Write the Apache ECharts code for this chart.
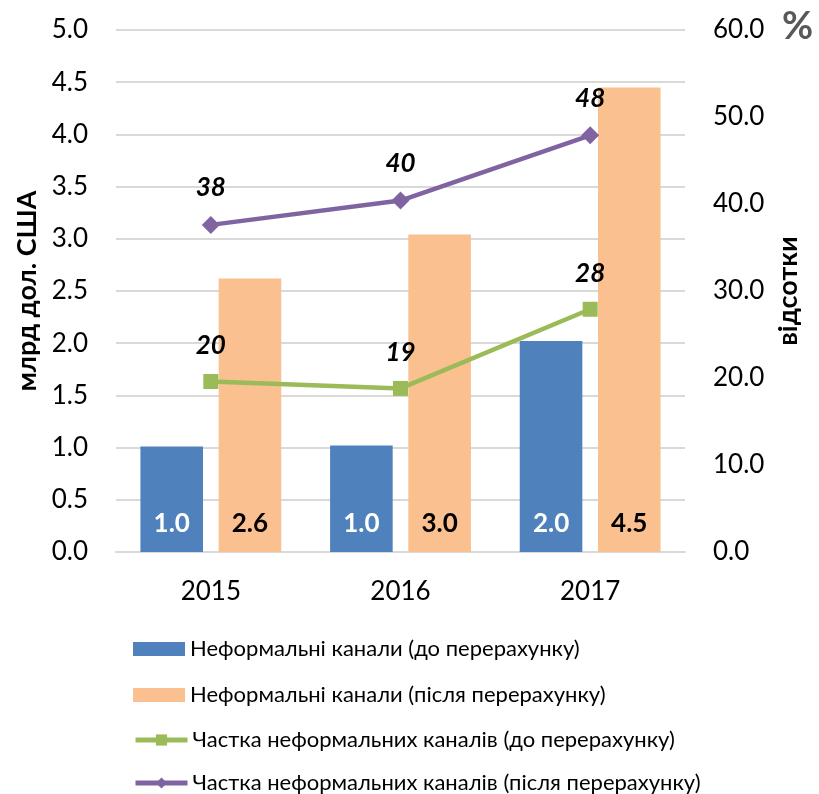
<!DOCTYPE html>
<html>
<head>
<meta charset="utf-8">
<script src="https://cdn.jsdelivr.net/npm/echarts@6/dist/echarts.min.js"></script>
<style>
  html, body { margin: 0; padding: 0; background: #fff; }
  #main { width: 819px; height: 794px; }
</style>
</head>
<body>
<div id="main"></div>
<script>
// дані
const years = ['2015', '2016', '2017'];
const informalBefore = [1.01, 1.02, 2.02];
const informalAfter = [2.62, 3.04, 4.45];
const shareBefore = [19.6, 18.8, 27.9];
const shareAfter = [37.6, 40.4, 47.9];
const seriesNames = [
  'Неформальні канали (до перерахунку)',
  'Неформальні канали (після перерахунку)',
  'Частка неформальних каналів (до перерахунку)',
  'Частка неформальних каналів (після перерахунку)'
];

const font = 'Lato, "Open Sans", sans-serif';
const colors = ['#4F81BD', '#FAC090', '#9BBB59', '#8064A2'];
let myChart = echarts.init(document.getElementById('main'));

// окрема легенда на кожен ряд, щоб стояли у стовпчик
let legendTops = [633, 679, 724, 767];
let legends = seriesNames.map(function (n, i) {
  return {
    data: [{ name: n, icon: i < 2 ? 'rect' : undefined }],
    left: 128,
    top: legendTops[i],
    itemWidth: 52,
    itemHeight: 14,
    lineStyle: { width: 5 },
    textStyle: { fontFamily: font, fontSize: 22, color: '#000' }
  };
});

let lineLabel = {
  show: true,
  position: 'top',
  distance: 15,
  fontFamily: font,
  fontSize: 26,
  fontWeight: 'bold',
  fontStyle: 'italic',
  color: '#000',
  formatter: function (p) { return Math.round(p.value); }
};

let barLabel = function (c) {
  return {
    show: true, position: 'insideBottom', distance: 15,
    fontFamily: font, fontSize: 26, fontWeight: 'bold', color: c,
    formatter: function (p) { return p.value.toFixed(1); }
  };
};

let tickLabel = { fontFamily: font, fontSize: 26, color: '#000', margin: 28, formatter: function (v) { return v.toFixed(1); } };
let axisName = { fontFamily: font, fontSize: 27, fontWeight: 'bold', color: '#000' };

let option = {
  animation: false,
  color: colors,
  legend: legends,
  grid: { left: 116, right: 134, top: 30, bottom: 242 },
  graphic: [{
    type: 'text',
    left: 782,
    top: 8,
    style: { text: '%', fontFamily: font, fontSize: 38, fontWeight: 'bold', fill: '#595959' }
  }],
  xAxis: {
    type: 'category',
    data: years,
    axisLine: { lineStyle: { color: '#d9d9d9', width: 2 } },
    axisTick: { show: false },
    axisLabel: { fontFamily: font, fontSize: 26, color: '#000', margin: 27 }
  },
  yAxis: [{
    type: 'value',
    min: 0,
    max: 5,
    interval: 0.5,
    name: 'млрд дол. США',
    nameLocation: 'middle',
    nameRotate: 90,
    nameGap: 75,
    nameTextStyle: axisName,
    axisLabel: tickLabel,
    splitLine: { lineStyle: { color: '#d9d9d9', width: 2 } },
    axisLine: { show: false },
    axisTick: { show: false }
  }, {
    type: 'value',
    min: 0,
    max: 60,
    interval: 10,
    name: 'відсотки',
    nameLocation: 'middle',
    nameRotate: 90,
    nameGap: 87,
    nameTextStyle: axisName,
    axisLabel: tickLabel,
    splitLine: { show: false },
    axisLine: { show: false },
    axisTick: { show: false }
  }],
  series: [
    {
      name: seriesNames[0],
      type: 'bar',
      data: informalBefore,
      barWidth: '33%',
      barGap: '25%',
      label: barLabel('#fff')
    },
    {
      name: seriesNames[1],
      type: 'bar',
      data: informalAfter,
      barWidth: '33%',
      label: barLabel('#000')
    },
    {
      name: seriesNames[2],
      type: 'line',
      yAxisIndex: 1,
      data: shareBefore,
      symbol: 'rect',
      symbolSize: 15,
      lineStyle: { width: 4.5 },
      label: lineLabel
    },
    {
      name: seriesNames[3],
      type: 'line',
      yAxisIndex: 1,
      data: shareAfter,
      symbol: 'diamond',
      symbolSize: 18,
      lineStyle: { width: 4.5 },
      label: lineLabel
    }
  ]
};
myChart.setOption(option);
</script>
</body>
</html>
